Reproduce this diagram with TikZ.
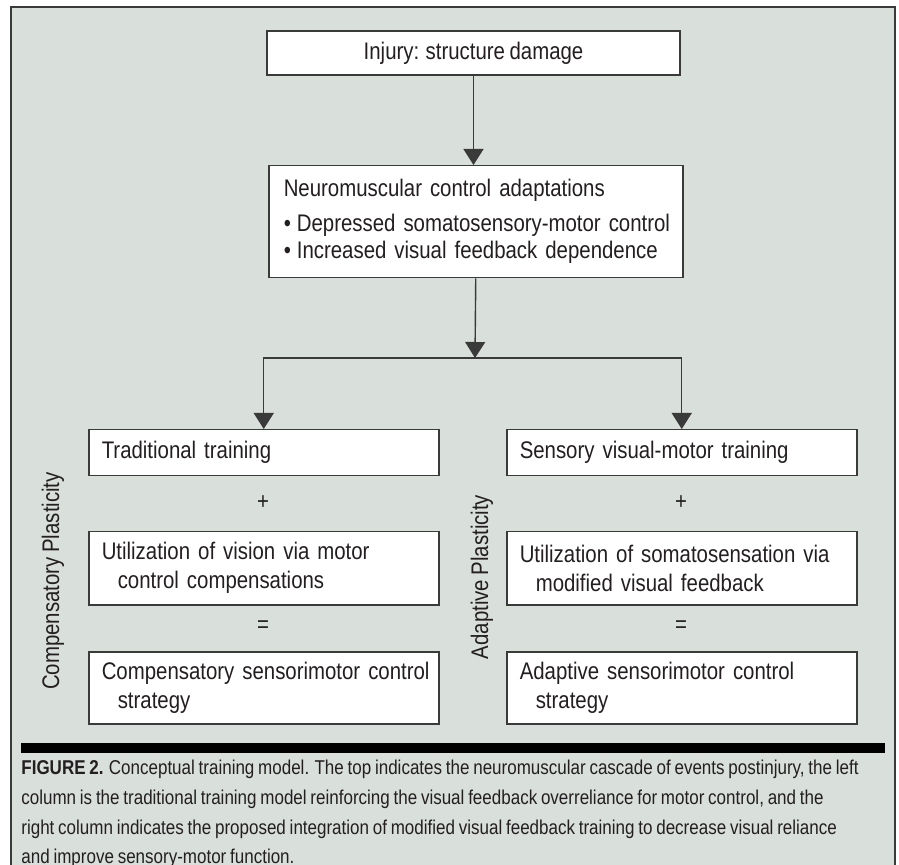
\documentclass[tikz,border=0pt]{standalone}
\usepackage{fontspec}
\setmainfont{Liberation Sans}[FakeStretch=0.85,WordSpace=0.8]
\usetikzlibrary{arrows.meta,positioning}
\definecolor{PanelClr}{RGB}{217,223,219}
\definecolor{InkClr}{RGB}{35,31,32}
\definecolor{RuleClr}{RGB}{58,58,58}

\begin{document}
\begin{tikzpicture}[x=0.5pt,y=-0.5pt,
  every node/.style={text=InkClr,font=\fontsize{12}{14.5}\selectfont},
  box/.style={draw=RuleClr,line width=0.75pt,fill=white,inner xsep=6.5pt,inner ysep=0pt,align=left},
  colbox/.style={box,anchor=north west,text width=162pt},
  link/.style={draw=RuleClr,line width=0.7pt,-{Triangle[width=10pt,length=8pt]}}]

\useasboundingbox (0,0) rectangle (899,865);

% panel
\fill[PanelClr] (11,7) rectangle (895,865);
\draw[RuleClr,line width=0.6pt] (11,865) -- (11,7) -- (895,7) -- (895,865);

% cascade
\node[box,align=center,minimum width=206.5pt,minimum height=22pt] (injury) at (473.5,53) {Injury: structure damage};
\node[box,anchor=north west,text width=195pt,inner xsep=6pt,minimum height=56pt,
  font=\fontsize{12}{13.5}\selectfont] (neuro) at (268,165)
  {\mbox{\hspace*{1.5pt}Neuromuscular control adaptations}\\[4pt]
   \mbox{\hspace*{1.5pt}•\hspace{3pt}Depressed somatosensory-motor control}\\
   \mbox{\hspace*{1.5pt}•\hspace{3pt}Increased visual feedback dependence}};
\coordinate (split) at (475,358);

% left column
\node[colbox,minimum height=23pt] (trad) at (88,429) {Traditional training};
\node (plusL) at (263,503) {+};
\node[colbox,minimum height=36.5pt] (vision) at (88,531)
  {\mbox{Utilization of vision via motor}\\\mbox{\hspace*{8pt}control compensations}};
\node (eqL) at (263,627) {=};
\node[colbox,minimum height=36pt] (compens) at (88,651)
  {\mbox{Compensatory sensorimotor control}\\\mbox{\hspace*{8pt}strategy}};

% right column
\node[colbox,minimum height=23pt] (sensory) at (506,429) {Sensory visual-motor training};
\node (plusR) at (681,503) {+};
\node[colbox,minimum height=36.5pt] (somato) at (506,531)
  {\mbox{Utilization of somatosensation via}\\\mbox{\hspace*{8pt}modified visual feedback}};
\node (eqR) at (681,627) {=};
\node[colbox,minimum height=36pt] (adapt) at (506,651)
  {\mbox{Adaptive sensorimotor control}\\\mbox{\hspace*{8pt}strategy}};

% side labels
\node[rotate=90] (compLabel) at (53,581) {Compensatory Plasticity};
\node[rotate=90] (adaptLabel) at (482,577) {Adaptive Plasticity};

% connectors
\draw[link] (injury.south) -- (injury.south |- neuro.north);
\draw[link] (neuro.south) -- (split);
\draw[link] (split) -| (trad.north);
\draw[link] (split) -| (sensory.north);

% caption
\fill[black] (21,743) rectangle (885,753);
\node[anchor=north west,inner sep=0pt,align=left,font=\fontsize{10}{14.8}\selectfont] (caption) at (21,760)
  {\textbf{FIGURE 2.} Conceptual training model. The top indicates the neuromuscular cascade of events postinjury, the left\\
   column is the traditional training model reinforcing the visual feedback overreliance for motor control, and the\\
   right column indicates the proposed integration of modified visual feedback training to decrease visual reliance\\
   and improve sensory-motor function.};

\end{tikzpicture}
\end{document}
